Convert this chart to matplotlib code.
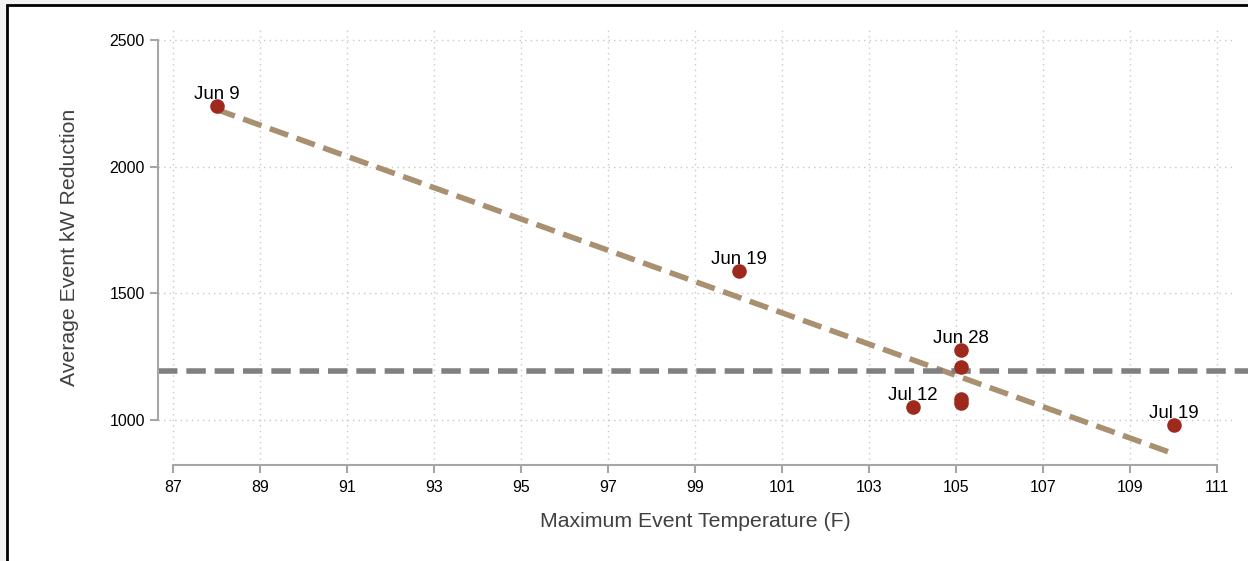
import numpy as np
import matplotlib
matplotlib.use("Agg")
import matplotlib.pyplot as plt
from matplotlib.patches import Rectangle

plt.rcParams['font.family'] = ['Liberation Sans', 'DejaVu Sans']

# event data
temps = [88, 100, 105.1, 105.1, 105.1, 105.1, 104, 110]
kw_red = [2239, 1588, 1276, 1209, 1081, 1066, 1051, 980]
labels = ["Jun 9", "Jun 19", "Jun 28", "", "", "", "Jul 12", "Jul 19"]
ref_level = 1195

xticks = list(range(87, 112, 2))
yticks = [1000, 1500, 2000, 2500]

fig = plt.figure(figsize=(12.48, 5.61), dpi=100)
fig.patch.set_facecolor('#f2f2f2')
fig.patches.append(Rectangle((7/1248, -0.1), 1.2, (561-5)/561 + 0.1, transform=fig.transFigure,
                             facecolor='white', edgecolor='black', lw=2, zorder=-5))

ax = fig.add_axes([158/1248, 96/561, 1074/1248, 436/561])
ax.set_facecolor('none')

# linear fit
slope, icpt = np.polyfit(temps, kw_red, 1)
fx = np.array([min(temps), max(temps)])
ax.plot(fx, slope*fx + icpt, color='#a89070', lw=4, ls=(0, (3.5, 1.6)), zorder=2)

ax.plot([0, 1.05], [ref_level, ref_level], transform=ax.get_yaxis_transform(),
        color='#808080', lw=4, ls=(0, (3.5, 1.6)), clip_on=False, zorder=2)

ax.scatter(temps, kw_red, s=110, color='#9e2a1e', zorder=3, linewidths=0)
for t, k, lab in zip(temps, kw_red, labels):
    if lab:
        ax.annotate(lab, (t, k), xytext=(0, 2), textcoords='offset points',
                    ha='center', va='bottom', fontsize=13.4, color='black')

ax.set_xlim(86.655, 111.34)
ax.set_ylim(822, 2543)
ax.set_xticks(xticks)
ax.set_yticks(yticks)
ax.grid(True, ls=(0, (1, 3)), color='#c8c8c8', lw=1)
ax.set_axisbelow(True)

for s in ['top', 'right']:
    ax.spines[s].set_visible(False)
ax.spines['left'].set_bounds(1000, 2500)
ax.spines['bottom'].set_bounds(87, 111)
for s in ['left', 'bottom']:
    ax.spines[s].set_color('#a6a6a6')
    ax.spines[s].set_linewidth(1.5)
ax.tick_params(colors='#a6a6a6', width=1.5, length=6, labelcolor='black', labelsize=11.4)
ax.tick_params(axis='x', pad=5)

ax.set_xlabel("Maximum Event Temperature (F)", fontsize=15.3, color='#404040')
ax.set_ylabel("Average Event kW Reduction", fontsize=15.3, color='#404040')
ax.xaxis.set_label_coords(0.5, -0.108)
ax.yaxis.set_label_coords(-0.074, 0.5)

fig.savefig("out.png", dpi=100, facecolor=fig.get_facecolor())
